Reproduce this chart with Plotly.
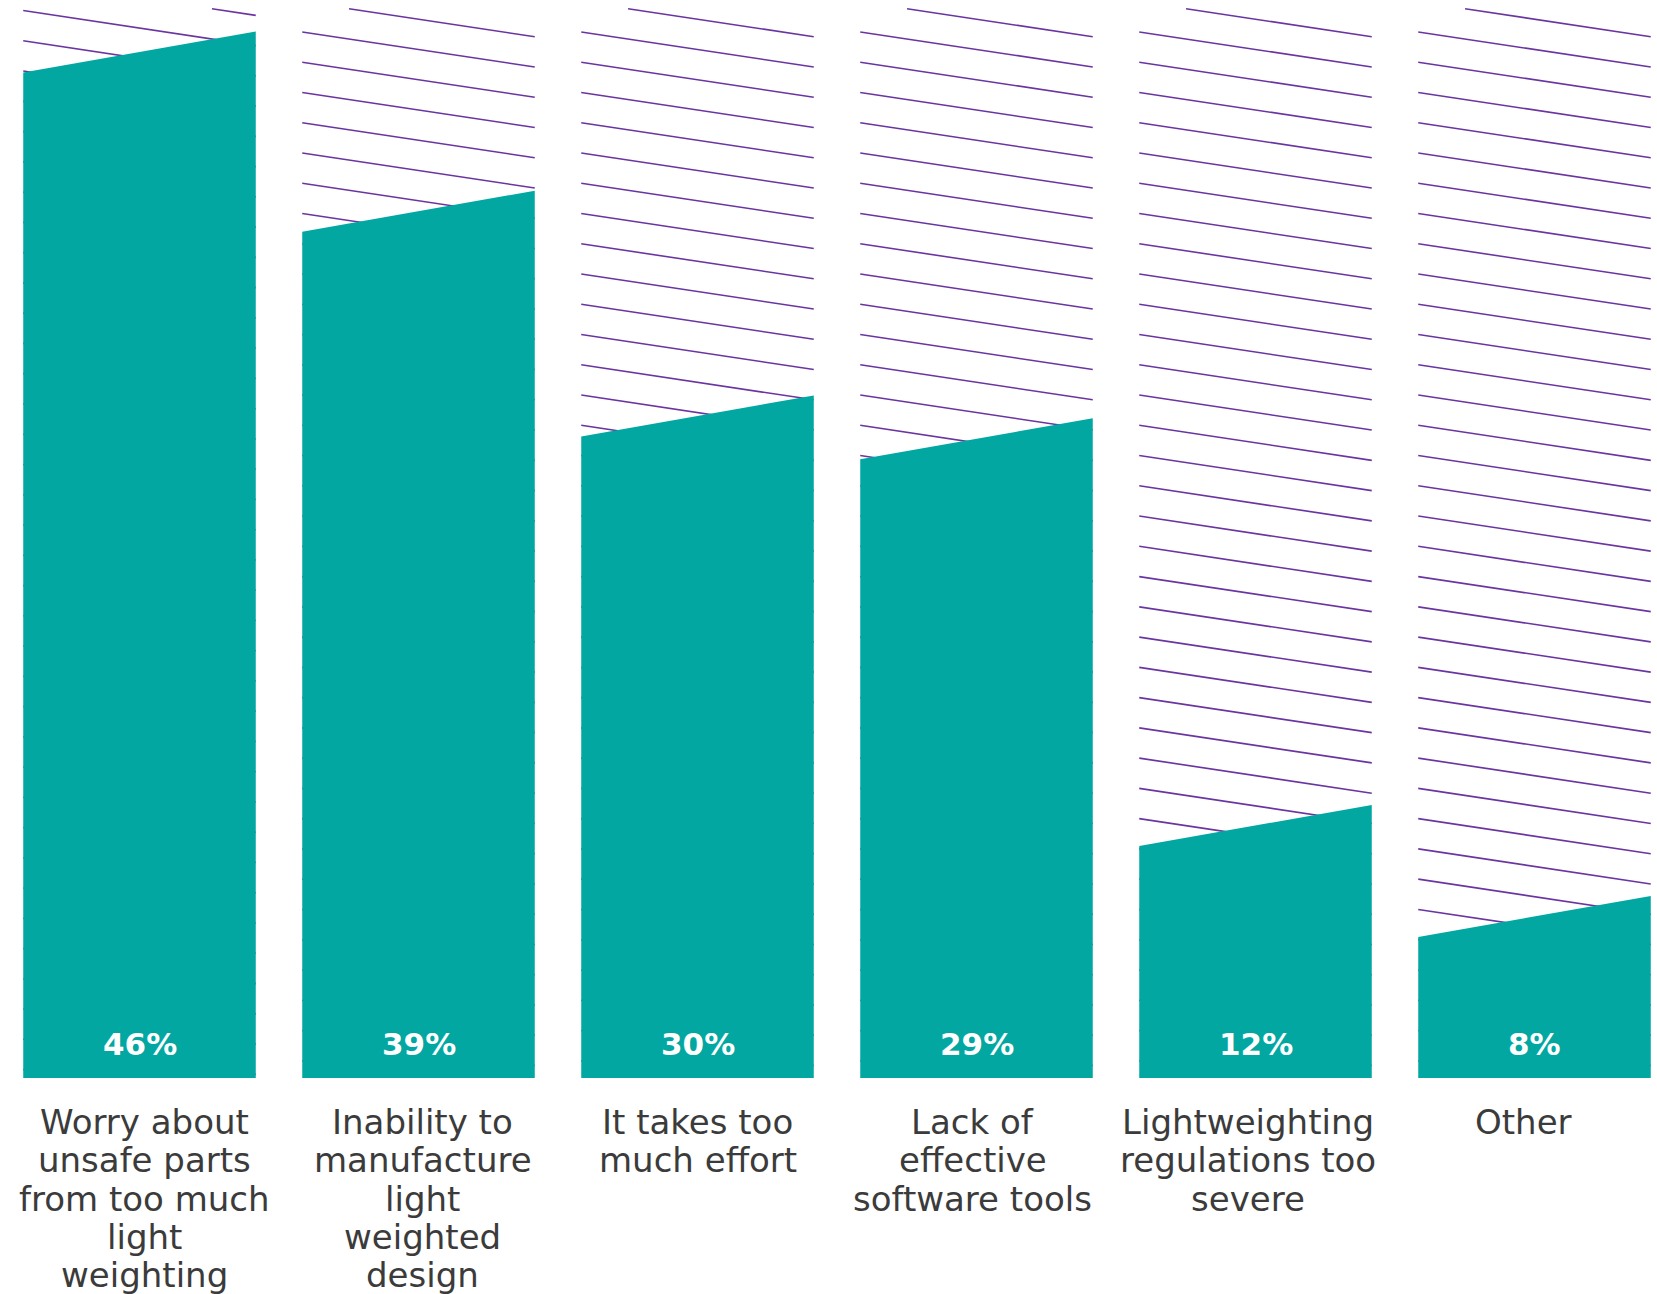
import plotly.graph_objects as go

# ---- data -------------------------------------------------------------
categories = [
    "Worry about unsafe parts from too much light weighting",
    "Inability to manufacture light weighted design",
    "It takes too much effort",
    "Lack of effective software tools",
    "Lightweighting regulations too severe",
    "Other",
]
label_lines = [
    ["Worry about", "unsafe parts", "from too much", "light", "weighting"],
    ["Inability to", "manufacture", "light", "weighted", "design"],
    ["It takes too", "much effort"],
    ["Lack of", "effective", "software tools"],
    ["Lightweighting", "regulations too", "severe"],
    ["Other"],
]
values = [46, 39, 30, 29, 12, 8]

# ---- styling / geometry ----------------------------------------------
W, H = 1657, 1294
BOTTOM = 216                 # space under the bars for the category labels
PX_PER_CAT = 279.0           # horizontal pitch of the columns
PX_PER_PCT = 22.75           # vertical scale
Y_MAX = (H - BOTTOM) / PX_PER_PCT
X_MIN = -0.5
X_MAX = X_MIN + W / PX_PER_CAT

TEAL = "#02a7a1"
PURPLE = "#6a35a0"
TEXT = "#3b3b3b"
FONT = "DejaVu Sans"

BAR_HALF = 0.4167            # half bar width in category units
BAR_SLANT = 1.8              # how much lower the left top corner sits (pct units)

HATCH_TOP = 47.0
HATCH_STEP = 1.33
HATCH_DROP = 1.54
HATCH_PHASE = [46.92, 45.98, 45.98, 45.98, 45.98, 45.98]

LABEL_XSHIFT = [5, 4, 0, -4, -8, -11]
LINE_PITCH = 38.3
FIRST_LINE = 44

fig = go.Figure()

# diagonal hatching that fills each column above its bar
hx, hy = [], []
for i, v in enumerate(values):
    x0, x1 = i - BAR_HALF, i + BAR_HALF
    c = HATCH_PHASE[i] + 2 * HATCH_STEP
    while c > 0:
        xa, ya = x0, c
        xb, yb = x1, c - HATCH_DROP
        if yb < HATCH_TOP:
            if ya > HATCH_TOP:
                xa = x0 + (ya - HATCH_TOP) / HATCH_DROP * (x1 - x0)
                ya = HATCH_TOP
            if yb < 0:
                xb = x0 + ya / HATCH_DROP * (x1 - x0) if ya < HATCH_DROP else x1
                yb = max(yb, 0)
            hx += [xa, xb, None]
            hy += [ya, yb, None]
        c -= HATCH_STEP

fig.add_trace(go.Scatter(
    x=hx, y=hy, mode="lines",
    line=dict(color=PURPLE, width=1.6),
    hoverinfo="skip", showlegend=False,
))

# bars with a slanted top edge
for i, (cat, v) in enumerate(zip(categories, values)):
    x0, x1 = i - BAR_HALF, i + BAR_HALF
    fig.add_trace(go.Scatter(
        x=[x0, x1, x1, x0, x0],
        y=[0, 0, v, v - BAR_SLANT, 0],
        mode="lines", fill="toself",
        fillcolor=TEAL, line=dict(width=0, color=TEAL),
        name=cat, hoverinfo="name", showlegend=False,
    ))

annotations = []
for i, v in enumerate(values):
    annotations.append(dict(
        x=i, y=0, xref="x", yref="y",
        text=f"<b>{v}%</b>", showarrow=False,
        yanchor="middle", yshift=34,
        font=dict(family=FONT, size=31, color="white"),
    ))
    for k, line in enumerate(label_lines[i]):
        annotations.append(dict(
            x=i, y=0, xref="x", yref="y",
            text=line, showarrow=False,
            xanchor="center", yanchor="middle",
            xshift=LABEL_XSHIFT[i],
            yshift=-(FIRST_LINE + k * LINE_PITCH),
            font=dict(family=FONT, size=34, color=TEXT),
        ))

fig.update_layout(
    width=W, height=H,
    margin=dict(l=0, r=0, t=0, b=BOTTOM),
    paper_bgcolor="white", plot_bgcolor="white",
    xaxis=dict(range=[X_MIN, X_MAX], visible=False, fixedrange=True),
    yaxis=dict(range=[0, Y_MAX], visible=False, fixedrange=True),
    annotations=annotations,
)

fig.write_html("out.html")
